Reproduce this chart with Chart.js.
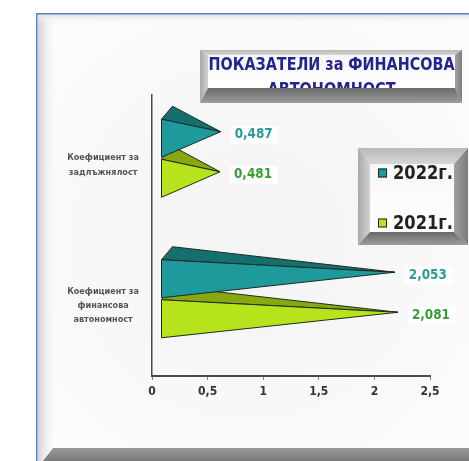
<!DOCTYPE html>
<html>
<head>
<meta charset="utf-8">
<script src="https://cdn.jsdelivr.net/npm/chart.js@4/dist/chart.umd.min.js"></script>
<style>
  html, body { margin: 0; padding: 0; background: #fff; }
  canvas { display: block; }
</style>
</head>
<body>
<canvas id="chart" width="469" height="461"></canvas>
<script>
// ─── Data ───
const categories = [
    ['Коефициент за', 'задлъжнялост'],
    ['Коефициент за', 'финансова', 'автономност'],
];
const seriesNames = ['2022г.', '2021г.'];
const values2022 = [0.487, 2.053];
const values2021 = [0.481, 2.081];
const xTickLabels = ['0', '0,5', '1', '1,5', '2', '2,5'];
const titleLines = ['ПОКАЗАТЕЛИ за ФИНАНСОВА', 'АВТОНОМНОСТ'];

// ─── Styling ───
const palette = [
    { front: '#1f9a9c', top: '#156f6e', label: '#2a9c9a' },
    { front: '#b6e31c', top: '#87a810', label: '#3a9c34' },
];
const NARROW = "'Liberation Sans Narrow', 'DejaVu Sans Condensed', 'Liberation Sans', sans-serif";

// 3D look: front plane shift from the axes, and depth of the back plane
const FRONT_X = 9, FRONT_Y = -7;
const DEPTH_X = 11, DEPTH_Y = -13;

function poly(ctx, pts, fill, stroke) {
    ctx.beginPath();
    ctx.moveTo(pts[0][0], pts[0][1]);
    for (let i = 1; i < pts.length; i++) ctx.lineTo(pts[i][0], pts[i][1]);
    ctx.closePath();
    if (fill) { ctx.fillStyle = fill; ctx.fill(); }
    if (stroke) { ctx.strokeStyle = stroke; ctx.stroke(); }
}

function vGrad(ctx, y1, y2, c1, c2) {
    const g = ctx.createLinearGradient(0, y1, 0, y2);
    g.addColorStop(0, c1);
    g.addColorStop(1, c2);
    return g;
}

function hGrad(ctx, x1, x2, c1, c2) {
    const g = ctx.createLinearGradient(x1, 0, x2, 0);
    g.addColorStop(0, c1);
    g.addColorStop(1, c2);
    return g;
}

// grey raised frame with a light face
function bevelBox(ctx, x, y, w, h, t, r, b, l) {
    const x2 = x + w, y2 = y + h;
    const fx = x + l, fy = y + t, fx2 = x2 - r, fy2 = y2 - b;
    poly(ctx, [[x, y], [x2, y], [fx2, fy], [fx, fy]], vGrad(ctx, y, fy, '#b8b8b8', '#d6d6d6'));
    poly(ctx, [[x, y], [fx, fy], [fx, fy2], [x, y2]], hGrad(ctx, x, fx, '#a9a9a9', '#d2d2d2'));
    poly(ctx, [[x2, y], [x2, y2], [fx2, fy2], [fx2, fy]], hGrad(ctx, fx2, x2, '#a0a0a0', '#7c7c7c'));
    poly(ctx, [[x, y2], [fx, fy2], [fx2, fy2], [x2, y2]], vGrad(ctx, fy2, y2, '#6a6a6a', '#9c9c9c'));
    poly(ctx, [[fx, fy], [fx2, fy], [fx2, fy2], [fx, fy2]], vGrad(ctx, fy, fy2, '#f6f6f6', '#ffffff'));
    return { fx, fy, fx2, fy2 };
}

// ─── Backdrop: framed panel ───
const backdrop = {
    id: 'backdrop',
    beforeDraw(chart) {
        const { ctx, width, height } = chart;
        ctx.save();
        ctx.fillStyle = '#ffffff';
        ctx.fillRect(0, 0, width, height);

        const bg = ctx.createRadialGradient(250, 240, 40, 250, 240, 330);
        bg.addColorStop(0, '#f4f4f4');
        bg.addColorStop(1, '#fdfdfd');
        ctx.fillStyle = bg;
        ctx.fillRect(38, 14, width - 38, height - 14);

        // soft shading on the inner left and top edges
        ctx.fillStyle = hGrad(ctx, 38, 56, '#d2d2d2', 'rgba(250,250,250,0)');
        ctx.fillRect(38, 14, 18, height - 14);
        ctx.fillStyle = vGrad(ctx, 14, 24, '#e0e0e0', 'rgba(250,250,250,0)');
        ctx.fillRect(38, 14, width - 38, 10);

        // bottom ledge
        poly(ctx, [[43, height], [53, 448], [width, 448], [width, height]],
            vGrad(ctx, 448, height, '#9a9a9a', '#7a7a7a'));

        // blue border lines
        ctx.fillStyle = '#5b7fc2';
        ctx.fillRect(36, 13, width - 36, 1.5);
        ctx.fillRect(36, 13, 1.5, height - 13);
        ctx.restore();
    },
};

// ─── Pyramid bars with value labels ───
const pyramids = {
    id: 'pyramids',
    afterDatasetsDraw(chart) {
        const { ctx } = chart;
        ctx.save();
        ctx.lineWidth = 1;
        ctx.lineJoin = 'round';
        // lower series first so the upper one sits on top of it
        for (let d = chart.data.datasets.length - 1; d >= 0; d--) {
            const meta = chart.getDatasetMeta(d);
            const col = palette[d];
            meta.data.forEach((bar, i) => {
                const x0 = bar.base + FRONT_X;
                const yc = bar.y + FRONT_Y;
                const yt = yc - bar.height / 2;
                const yb = yc + bar.height / 2;
                const apex = [bar.x + FRONT_X + DEPTH_X / 2, yc + DEPTH_Y / 2];
                const backTop = [x0 + DEPTH_X, yt + DEPTH_Y];

                poly(ctx, [[x0, yt], backTop, apex], col.top, '#1d2b22');
                poly(ctx, [[x0, yt], [x0, yb], apex], col.front, '#1d2b22');

                const value = chart.data.datasets[d].data[i];
                const text = value.toFixed(3).replace('.', ',');
                ctx.font = 'bold 14px ' + NARROW;
                ctx.textBaseline = 'middle';
                ctx.textAlign = 'left';
                const tx = apex[0] + 14;
                const ty = apex[1] + 3;
                const tw = Math.min(ctx.measureText(text).width, 38);
                ctx.fillStyle = 'rgba(255,255,255,0.85)';
                ctx.fillRect(tx - 4, ty - 9, tw + 10, 18);
                ctx.fillStyle = col.label;
                ctx.fillText(text, tx, ty, 38);
            });
        }
        ctx.restore();
    },
};

// ─── Title and legend panels ───
const panels = {
    id: 'panels',
    afterDraw(chart) {
        const { ctx } = chart;
        ctx.save();

        // title panel
        const t = bevelBox(ctx, 200, 50, 262, 53, 5, 7, 15, 8);
        ctx.save();
        ctx.beginPath();
        ctx.rect(t.fx, t.fy, t.fx2 - t.fx, t.fy2 - t.fy);
        ctx.clip();
        ctx.fillStyle = '#24248f';
        ctx.textAlign = 'center';
        ctx.textBaseline = 'middle';
        ctx.font = 'bold 18px ' + NARROW;
        const cx = (t.fx + t.fx2) / 2;
        ctx.fillText(titleLines[0], cx, 65, 246);
        ctx.fillText(titleLines[1], cx, 90, 128);
        ctx.restore();

        // legend panel
        bevelBox(ctx, 358, 148, 110, 97, 16, 14, 13, 12);
        const rows = [173, 223];
        chart.data.datasets.forEach((ds, d) => {
            const y = rows[d];
            ctx.fillStyle = palette[d].front;
            ctx.fillRect(378, y - 4.5, 9, 9);
            ctx.strokeStyle = '#1d2b22';
            ctx.lineWidth = 1;
            ctx.strokeRect(378.5, y - 4, 8, 8);
            ctx.fillStyle = '#222';
            ctx.font = 'bold 19px ' + NARROW;
            ctx.textAlign = 'left';
            ctx.textBaseline = 'middle';
            ctx.fillText(ds.label, 393, y + 1, 60);
        });
        ctx.restore();
    },
};

new Chart(document.getElementById('chart'), {
    type: 'bar',
    data: {
        labels: categories,
        datasets: [
            { label: seriesNames[0], data: values2022, backgroundColor: 'rgba(0,0,0,0)', borderWidth: 0 },
            { label: seriesNames[1], data: values2021, backgroundColor: 'rgba(0,0,0,0)', borderWidth: 0 },
        ],
    },
    options: {
        indexAxis: 'y',
        responsive: false,
        animation: false,
        devicePixelRatio: 1,
        layout: { padding: { left: 42, right: 39, top: 95, bottom: 55 } },
        datasets: {
            bar: { categoryPercentage: 0.57, barPercentage: 0.95 },
        },
        plugins: {
            colors: { enabled: false },
            legend: { display: false },
            tooltip: { enabled: false },
        },
        scales: {
            x: {
                min: 0,
                max: 2.5,
                ticks: {
                    stepSize: 0.5,
                    maxRotation: 0,
                    padding: 5,
                    color: '#333',
                    font: { family: NARROW, size: 12, weight: 'bold' },
                    callback: (v, i) => xTickLabels[i],
                },
                grid: { drawOnChartArea: false, tickLength: 4, color: '#888' },
                border: { color: '#4a4a4a', width: 2 },
                afterFit: (s) => { s.height = 30; },
            },
            y: {
                ticks: {
                    crossAlign: 'center',
                    padding: 13,
                    color: '#555',
                    font: { family: NARROW, size: 9, weight: 'bold', lineHeight: 1.6 },
                },
                grid: { display: false, drawTicks: false },
                border: { color: '#4a4a4a', width: 1.5 },
                afterFit: (s) => { s.width = 110; },
            },
        },
    },
    plugins: [backdrop, pyramids, panels],
});
</script>
</body>
</html>
